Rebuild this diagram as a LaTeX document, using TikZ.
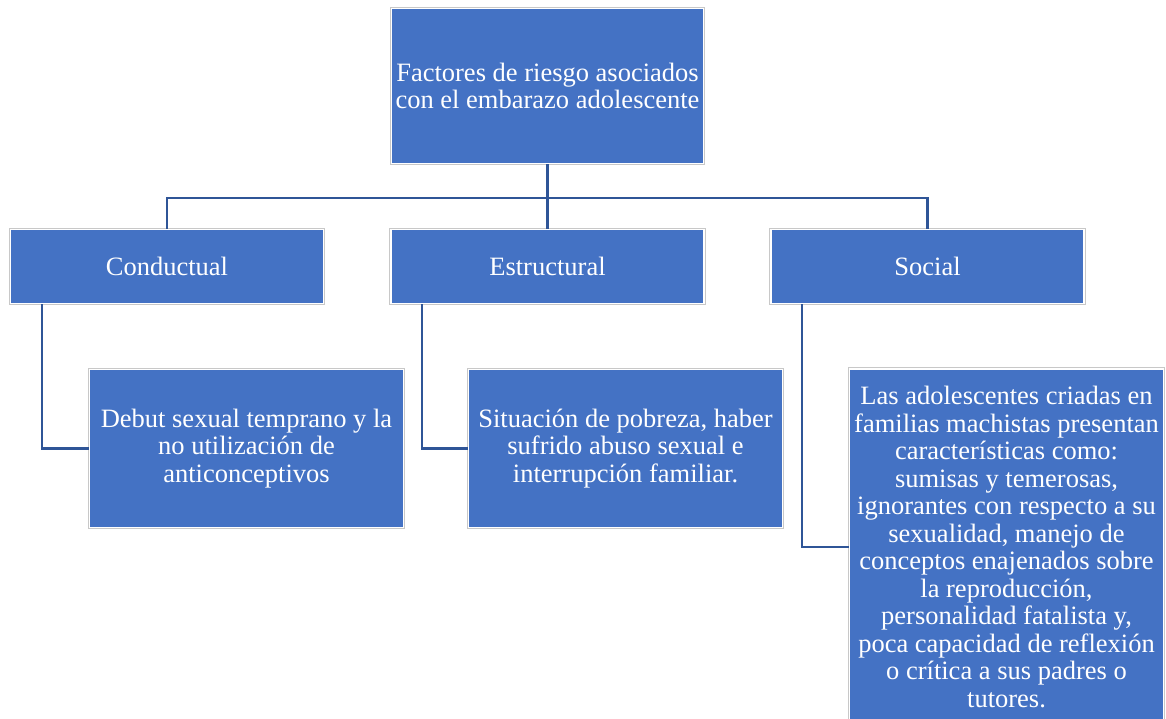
\documentclass[tikz,border=0pt]{standalone}
\usepackage{fontspec}
\setmainfont{Liberation Serif}
\definecolor{boxblue}{HTML}{4472C4}
\definecolor{linkblue}{HTML}{2F5597}
\definecolor{edgegray}{HTML}{C8C8C8}
\begin{document}
\begin{tikzpicture}[x=1pt,y=-1pt,
  box/.style={rectangle, fill=boxblue, draw=white, line width=1.2pt,
    preaction={draw=edgegray, line width=3.6pt},
    text=white, align=center, inner sep=2pt,
    font=\fontsize{26.5}{27.5}\selectfont},
  link/.style={draw=linkblue, line width=2.6pt}]
\useasboundingbox (0,0) rectangle (1166,719);
\fill[white] (0,0) rectangle (1166,719);
% links first (behind boxes)
\coordinate (bar) at (547.5,198);
\node[box, minimum width=312pt, minimum height=155pt] (top) at (547.5,86)
  {Factores de riesgo asociados\\con el embarazo adolescente};
\node[box, minimum width=313pt, minimum height=74pt] (con) at (167,266.5) {Conductual};
\node[box, minimum width=313pt, minimum height=74pt] (est) at (547.5,266.5) {Estructural};
\node[box, minimum width=313pt, minimum height=74pt] (soc) at (927.5,266.5) {Social};
\node[box, minimum width=314pt, minimum height=158pt] (deb) at (246.5,448.5)
  {Debut sexual temprano y la\\no utilización de\\anticonceptivos};
\node[box, minimum width=314pt, minimum height=158pt] (pob) at (625.5,448.5)
  {Situación de pobreza, haber\\sufrido abuso sexual e\\interrupción familiar.};
\node[box, minimum width=314pt, minimum height=356pt] (mac) at (1006.5,547)
  {Las adolescentes criadas en\\familias machistas presentan\\características como:\\sumisas y temerosas,\\ignorantes con respecto a su\\sexualidad, manejo de\\conceptos enajenados sobre\\la reproducción,\\personalidad fatalista y,\\poca capacidad de reflexión\\o crítica a sus padres o\\tutores.};
\begin{scope}[on background layer/.try]
\end{scope}
\draw[link] (top.south) -- (bar);
\draw[link] (con.north) |- (bar) -| (soc.north);
\draw[link] (est.north) -- (est.north |- bar);
\draw[link] ([xshift=-125pt]con.south) |- (deb.west);
\draw[link] ([xshift=-125.5pt]est.south) |- (pob.west);
\draw[link] ([xshift=-125.5pt]soc.south) |- (mac.west);
\end{tikzpicture}
\end{document}
